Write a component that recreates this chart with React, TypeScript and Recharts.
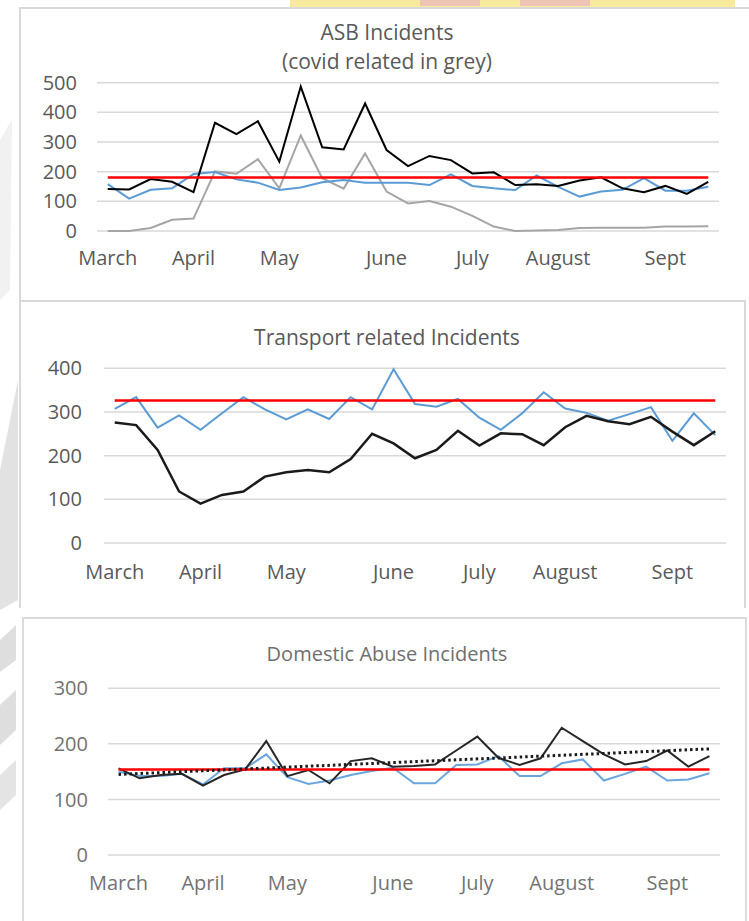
import { LineChart, Line, XAxis, YAxis, CartesianGrid, ReferenceLine } from "recharts";

// weekly categories, March to mid September
const weeks = [
  "Wk 1", "Wk 2", "Wk 3", "Wk 4", "Wk 5", "Wk 6", "Wk 7", "Wk 8", "Wk 9", "Wk 10",
  "Wk 11", "Wk 12", "Wk 13", "Wk 14", "Wk 15", "Wk 16", "Wk 17", "Wk 18", "Wk 19", "Wk 20",
  "Wk 21", "Wk 22", "Wk 23", "Wk 24", "Wk 25", "Wk 26", "Wk 27", "Wk 28", "Wk 29",
];
const monthTicks = ["Wk 1", "Wk 5", "Wk 9", "Wk 14", "Wk 18", "Wk 22", "Wk 27"];
const monthNames = ["March", "April", "May", "June", "July", "August", "Sept"];

// ASB
const asbTotal = [142, 140, 175, 166, 131, 365, 327, 370, 234, 487, 282, 275, 430, 273, 219, 253, 239, 194, 198, 155, 158, 152, 170, 181, 144, 131, 152, 125, 166];
const asbLastYear = [158, 109, 139, 144, 192, 199, 174, 163, 138, 147, 164, 172, 163, 163, 163, 155, 191, 152, 144, 138, 187, 149, 116, 133, 139, 178, 136, 136, 149];
const asbCovid = [0, 0, 10, 38, 42, 201, 193, 242, 144, 322, 178, 143, 261, 133, 93, 101, 82, 51, 15, 0, 2, 3, 10, 11, 11, 11, 15, 15, 16];
const asbTarget = 180;
const asbTicks = [0, 100, 200, 300, 400, 500];

// Transport
const transportLastYear = [307, 334, 264, 292, 259, 297, 334, 306, 283, 306, 284, 334, 306, 398, 318, 312, 330, 287, 259, 297, 345, 308, 298, 280, 295, 311, 234, 297, 247];
const transportTotal = [276, 270, 213, 118, 90, 110, 118, 152, 162, 167, 162, 192, 250, 228, 194, 213, 257, 223, 251, 249, 224, 265, 291, 279, 272, 289, 255, 224, 256];
const transportTarget = 326;
const transportTicks = [0, 100, 200, 300, 400];

// Domestic abuse
const domesticTotal = [156, 138, 144, 146, 125, 144, 154, 205, 142, 153, 129, 169, 174, 159, 160, 163, 188, 213, 175, 162, 174, 229, 205, 181, 163, 169, 188, 159, 178];
const domesticLastYear = [150, 142, 142, 146, 127, 156, 156, 181, 140, 128, 134, 144, 151, 157, 129, 129, 162, 163, 178, 142, 142, 165, 172, 134, 146, 159, 134, 136, 147];
const domesticTarget = 154;
const domesticTrend = [145, 191]; // linear trendline, first and last week
const domesticTicks = [0, 100, 200, 300];

const FONT = "'Open Sans', 'Liberation Sans', sans-serif";
const GRID = "#d9d9d9";

const asbData = weeks.map((week, i) => ({ week, total: asbTotal[i], lastYear: asbLastYear[i], covid: asbCovid[i] }));
const transportData = weeks.map((week, i) => ({ week, total: transportTotal[i], lastYear: transportLastYear[i] }));
const domesticData = weeks.map((week, i) => ({ week, total: domesticTotal[i], lastYear: domesticLastYear[i] }));

type Series = { key: string; color: string; width: number };

function IncidentChart(props: {
  top: number; height: number; mTop: number; mBottom: number; yWidth: number; right: number;
  yTicks: number[]; data: any[]; series: Series[]; target: number; trend?: number[];
  yGap: number; xGap: number; color: string; fontSize: number;
}) {
  const { top, height, mTop, mBottom, yWidth, right, yTicks, data, series, target, trend, yGap, xGap, color, fontSize } = props;
  const plotW = 749 - yWidth - right;
  const pad = plotW / (2 * weeks.length);
  const first = weeks[0];
  const last = weeks[weeks.length - 1];
  const tick = { fill: color, fontSize, fontFamily: FONT };
  return (
    <div style={{ position: "absolute", left: 0, top, width: 749, height }}>
      <LineChart width={749} height={height} data={data} margin={{ top: mTop, right, bottom: mBottom, left: 0 }}>
        <CartesianGrid vertical={false} stroke={GRID} strokeWidth={1.5} />
        <XAxis
          dataKey="week"
          scale="point"
          padding={{ left: pad, right: pad }}
          ticks={monthTicks}
          interval={0}
          tickFormatter={(v: string) => monthNames[monthTicks.indexOf(v)] ?? ""}
          axisLine={false}
          tickLine={false}
          tickSize={6}
          tickMargin={xGap}
          height={40}
          tick={tick}
        />
        <YAxis
          domain={[0, yTicks[yTicks.length - 1]]}
          ticks={yTicks}
          axisLine={false}
          tickLine={false}
          tickSize={6}
          tickMargin={yGap}
          width={yWidth}
          tick={tick}
        />
        {series.map((s) => (
          <Line
            key={s.key}
            dataKey={s.key}
            type="linear"
            stroke={s.color}
            strokeWidth={s.width}
            dot={false}
            activeDot={false}
            isAnimationActive={false}
          />
        ))}
        <ReferenceLine
          segment={[{ x: first, y: target }, { x: last, y: target }]}
          stroke="#ff0000"
          strokeWidth={2.5}
        />
        {trend && (
          <ReferenceLine
            segment={[{ x: first, y: trend[0] }, { x: last, y: trend[1] }]}
            stroke="#1a1a1a"
            strokeWidth={3}
            strokeDasharray="2.5 3"
          />
        )}
      </LineChart>
    </div>
  );
}

const titleStyle = (top: number, size: number, color: string): React.CSSProperties => ({
  position: "absolute",
  left: 0,
  width: 774,
  top,
  textAlign: "center",
  fontFamily: FONT,
  fontSize: size,
  lineHeight: `${size + 9}px`,
  color,
});

export default function App() {
  return (
    <div style={{ position: "absolute", left: 0, top: 0, width: 749, height: 921, background: "#fff", overflow: "hidden" }}>
      {/* watermark remnants */}
      <svg width={749} height={921} style={{ position: "absolute", left: 0, top: 0 }}>
        <rect x={290} y={0} width={445} height={7} fill="#f8ea9c" />
        <rect x={420} y={0} width={60} height={6} fill="#f0c4b4" />
        <rect x={520} y={0} width={70} height={6} fill="#f0c4b4" />
        <polygon points="0,140 12,120 10,290 0,300" fill="#f1f1f1" />
        <polygon points="0,470 18,380 18,600 0,610" fill="#e2e2e2" />
        <polygon points="0,640 16,625 16,660 0,672" fill="#dedede" />
        <polygon points="0,705 16,690 16,730 0,745" fill="#dedede" />
        <polygon points="0,775 16,760 16,795 0,810" fill="#e4e4e4" />
      </svg>

      {/* panel frames */}
      <div style={{ position: "absolute", left: 19, top: 7, width: 760, height: 294, border: "2px solid #d9d9d9", borderBottom: "none", background: "#fff", boxSizing: "border-box" }} />
      <div style={{ position: "absolute", left: 19, top: 300, width: 727, height: 308, border: "2px solid #d9d9d9", borderBottom: "none", background: "#fff", boxSizing: "border-box" }} />
      <div style={{ position: "absolute", left: 22, top: 617, width: 725, height: 320, border: "2px solid #dcdcdc", background: "#fff", boxSizing: "border-box" }} />

      <div style={titleStyle(17, 21, "#595959")}>ASB Incidents</div>
      <div style={titleStyle(46, 21, "#595959")}>(covid related in grey)</div>
      <div style={titleStyle(322, 21, "#595959")}>Transport related Incidents</div>
      <div style={titleStyle(639, 20, "#6f6f6f")}>Domestic Abuse Incidents</div>

      <IncidentChart
        top={0} height={300} mTop={82.7} mBottom={29} yWidth={97} right={30}
        yTicks={asbTicks} data={asbData} target={asbTarget}
        series={[
          { key: "covid", color: "#a5a5a5", width: 2 },
          { key: "lastYear", color: "#5b9bd5", width: 2 },
          { key: "total", color: "#000000", width: 2 },
        ]}
        yGap={14} xGap={14} color="#595959" fontSize={20}
      />
      <IncidentChart
        top={300} height={310} mTop={68.3} mBottom={27} yWidth={104} right={23}
        yTicks={transportTicks} data={transportData} target={transportTarget}
        series={[
          { key: "lastYear", color: "#5b9bd5", width: 2 },
          { key: "total", color: "#1a1a1a", width: 2.5 },
        ]}
        yGap={16} xGap={16} color="#595959" fontSize={20}
      />
      <IncidentChart
        top={615} height={306} mTop={73.3} mBottom={26} yWidth={108} right={29}
        yTicks={domesticTicks} data={domesticData} target={domesticTarget} trend={domesticTrend}
        series={[
          { key: "lastYear", color: "#6aa6dd", width: 2 },
          { key: "total", color: "#262626", width: 2 },
        ]}
        yGap={14} xGap={15} color="#737373" fontSize={20}
      />
    </div>
  );
}
